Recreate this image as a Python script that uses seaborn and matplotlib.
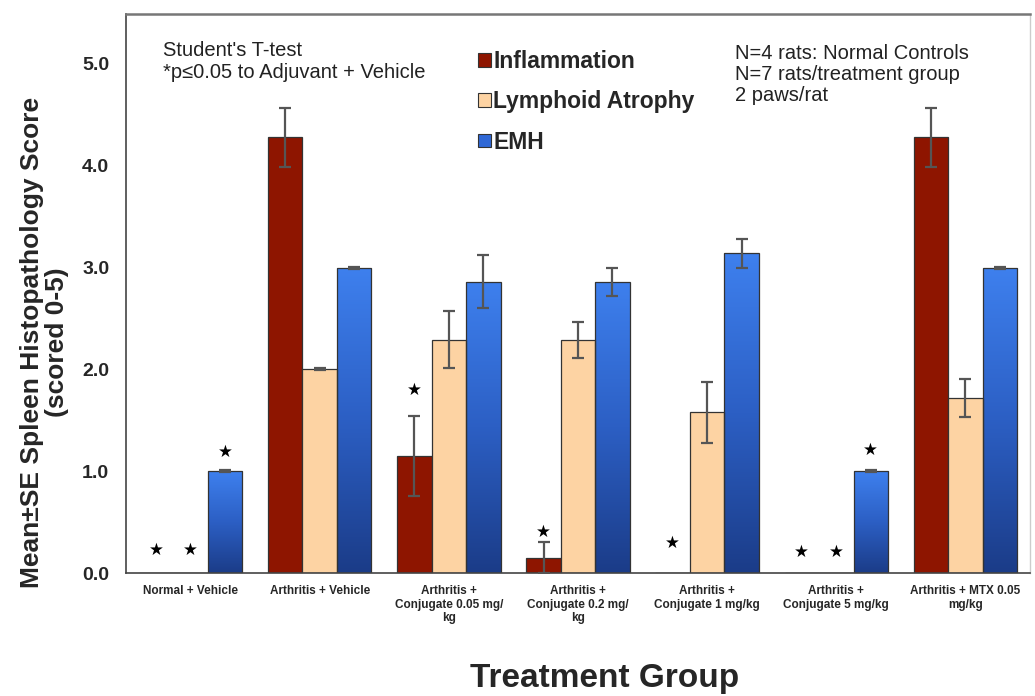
import numpy as np
import pandas as pd
import seaborn as sns
import matplotlib
matplotlib.use("Agg")
import matplotlib.pyplot as plt
from matplotlib.patches import Patch
from matplotlib.colors import LinearSegmentedColormap

groups = ["Normal + Vehicle", "Arthritis + Vehicle",
          "Arthritis +\nConjugate 0.05 mg/\nkg", "Arthritis +\nConjugate 0.2 mg/\nkg",
          "Arthritis +\nConjugate 1 mg/kg", "Arthritis +\nConjugate 5 mg/kg",
          "Arthritis + MTX 0.05\nmg/kg"]
measures = ["Inflammation", "Lymphoid Atrophy", "EMH"]

inflammation = [0, 4.28, 1.15, 0.15, 0, 0, 4.28]
infl_se = [0, 0.29, 0.39, 0.15, 0, 0, 0.29]
lymphoid = [0, 2.0, 2.29, 2.29, 1.58, 0, 1.72]
lymph_se = [0, 0.01, 0.28, 0.18, 0.30, 0, 0.19]
emh = [1.0, 3.0, 2.86, 2.86, 3.14, 1.0, 3.0]
emh_se = [0.01, 0.01, 0.26, 0.14, 0.14, 0.01, 0.01]

# significance stars: (group index, measure index, y position)
star_group = [0, 0, 0, 2, 3, 4, 5, 5, 5]
star_measure = [0, 1, 2, 0, 0, 0, 0, 1, 2]
star_y = [0.23, 0.23, 1.19, 1.80, 0.40, 0.30, 0.21, 0.21, 1.21]

df = pd.DataFrame({
    "group": groups * 3,
    "measure": [m for m in measures for _ in groups],
    "score": inflammation + lymphoid + emh,
})
se_lists = [infl_se, lymph_se, emh_se]
val_lists = [inflammation, lymphoid, emh]

sns.set_style("white")
plt.rcParams['font.family'] = ['Liberation Sans', 'DejaVu Sans']

red = "#8e1500"
beige = "#fdd3a3"
blue = "#2f68d6"
palette = {"Inflammation": red, "Lymphoid Atrophy": beige, "EMH": blue}

fig = plt.figure(figsize=(10.35, 6.96), dpi=100)
ax = fig.add_axes([126 / 1035, 1 - 573 / 696, (1030 - 126) / 1035, (573 - 14) / 696])

sns.barplot(data=df, x="group", y="score", hue="measure", palette=palette,
            order=groups, hue_order=measures, width=0.8, errorbar=None,
            edgecolor="#333333", linewidth=0.9, saturation=1, legend=False, ax=ax)
bar_conts = list(ax.containers[:3])

# vertical gradient on the EMH bars
cmap = LinearSegmentedColormap.from_list("emh", ["#1b3c88", "#2c5fc4", "#3e80ee"])
grad = np.linspace(0, 1, 256).reshape(-1, 1)
for p in bar_conts[2]:
    x0, w, h = p.get_x(), p.get_width(), p.get_height()
    im = ax.imshow(grad, extent=[x0, x0 + w, 0, h], origin="lower", cmap=cmap,
                   aspect="auto", zorder=p.get_zorder() - 0.1)
    im.set_clip_path(p)
    p.set_facecolor("none")

# error bars
for k, cont in enumerate(bar_conts):
    for i, p in enumerate(cont):
        if val_lists[k][i] == 0:
            continue
        xc = p.get_x() + p.get_width() / 2
        ax.errorbar(xc, val_lists[k][i], yerr=se_lists[k][i], fmt="none",
                    ecolor="#555555", elinewidth=1.6, capsize=4.5, capthick=1.6, zorder=3)

# stars
bw = 0.8 / 3
for g, m, y in zip(star_group, star_measure, star_y):
    ax.text(g + (m - 1) * bw, y, "★", ha="center", va="center", fontsize=12,
            color="black", family=['DejaVu Sans'])

ax.set_xlim(-0.5, 6.46)
ax.set_ylim(0, 5.49)
ax.set_yticks([0, 1, 2, 3, 4, 5])
ax.set_yticklabels([f"{v:.1f}" for v in [0, 1, 2, 3, 4, 5]], fontsize=14, fontweight="bold")
ax.set_xticks(range(len(groups)))
ax.set_xticklabels(groups, fontsize=8.5, fontweight="bold", linespacing=1.15)
ax.set_xticks(np.arange(-0.5, 7, 1), minor=True)
ax.tick_params(axis="x", which="major", length=0, pad=9)
ax.tick_params(axis="x", which="minor", length=3, direction="out", color="#555555")
ax.tick_params(axis="y", which="major", length=4, direction="out", color="#555555", pad=8)
ax.set_xlabel("")
ax.set_ylabel("Mean±SE Spleen Histopathology Score\n(scored 0-5)", fontsize=19,
              fontweight="bold", linespacing=1.05)
ax.yaxis.set_label_coords(-0.063, 0.413)

for s in ["left", "bottom"]:
    ax.spines[s].set_color("#444444")
    ax.spines[s].set_linewidth(1.2)
ax.spines["top"].set_color("#777777")
ax.spines["top"].set_linewidth(1.8)
ax.spines["right"].set_color("#cccccc")
ax.spines["right"].set_linewidth(1.0)

ax.text(0.041, 0.951, "Student's T-test\n*p≤0.05 to Adjuvant + Vehicle",
        transform=ax.transAxes, fontsize=14.5, va="top", ha="left", linespacing=1.2,
        color="#222222")
ax.text(0.674, 0.947, "N=4 rats: Normal Controls\nN=7 rats/treatment group\n2 paws/rat",
        transform=ax.transAxes, fontsize=14.5, va="top", ha="left", linespacing=1.15,
        color="#222222")

handles = [Patch(facecolor=c, edgecolor="#333333", linewidth=0.8) for c in [red, beige, blue]]
leg = ax.legend(handles, measures, loc="upper left", bbox_to_anchor=(0.367, 0.972),
                frameon=False, handlelength=0.55, handleheight=0.55, handletextpad=0.1,
                labelspacing=0.75, prop={"weight": "bold", "size": 16.5})

fig.text(605 / 1035, 1 - 678 / 696, "Treatment Group", ha="center", va="center",
         fontsize=24, fontweight="bold")

fig.savefig("out.png", dpi=100)
